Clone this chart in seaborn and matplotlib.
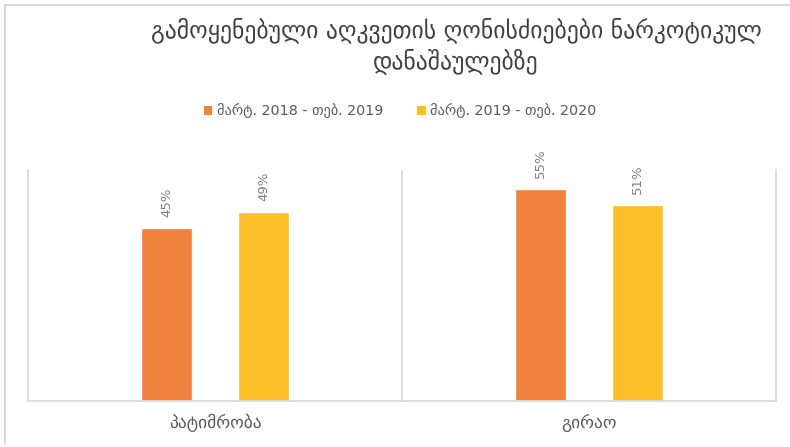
import matplotlib
matplotlib.use("Agg")
import matplotlib.pyplot as plt
import seaborn as sns
import pandas as pd
from matplotlib.lines import Line2D
from matplotlib.patches import Patch

categories = ["პატიმრობა", "გირაო"]
series_names = ["მარტ. 2018 - თებ. 2019", "მარტ. 2019 - თებ. 2020"]
values_2018 = [45, 55]
values_2019 = [49, 51]
title_text = "გამოყენებული აღკვეთის ღონისძიებები ნარკოტიკულ\nდანაშაულებზე"
colors = ["#F0823D", "#FDBE28"]

df = pd.DataFrame({
    "category": categories * 2,
    "period": [series_names[0]] * 2 + [series_names[1]] * 2,
    "value": values_2018 + values_2019,
})

sns.set_theme(style="white")
plt.rcParams["font.family"] = ["DejaVu Sans"]

fig = plt.figure(figsize=(7.9, 4.47), dpi=100)
ax = fig.add_axes([28 / 790, 46 / 447, 748 / 790, 231 / 447])

sns.barplot(data=df, x="category", y="value", hue="period", order=categories,
            hue_order=series_names, palette=colors, width=0.52, gap=0.47,
            saturation=1, ax=ax, legend=False)

for cont in ax.containers:
    ax.bar_label(cont, labels=[f"{int(v)}%" for v in cont.datavalues],
                 rotation=90, padding=8, color="#808080", fontsize=9.5)

ax.set_ylim(0, 60)
ax.set_xlim(-0.5, 1.5)
ax.set_yticks([])
ax.set_xlabel("")
ax.set_ylabel("")
ax.axvline(0.5, color="#d9d9d9", lw=1.3)
for side in ["left", "right", "bottom"]:
    ax.spines[side].set_color("#d9d9d9")
    ax.spines[side].set_linewidth(1.3)
ax.spines["top"].set_visible(False)
ax.tick_params(axis="x", length=0, pad=9, labelsize=12.5, labelcolor="#595959")

handles = [Patch(facecolor=c, edgecolor="none") for c in colors]
fig.legend(handles, series_names, loc="center", bbox_to_anchor=(400 / 790, 1 - 111 / 447),
           ncol=2, frameon=False, fontsize=10.3, handlelength=0.6, handleheight=0.6,
           handletextpad=0.3, columnspacing=2.4, labelcolor="#595959")

fig.text(456 / 790, 1 - 46 / 447, title_text, ha="center", va="center",
         fontsize=17, color="#404040", linespacing=1.25)

fig.add_artist(Line2D([5 / 790, 5 / 790], [1 - 5 / 447, 1 - 443 / 447],
                      transform=fig.transFigure, color="#d9d9d9", lw=1.5))
fig.add_artist(Line2D([5 / 790, 1], [1 - 5 / 447, 1 - 5 / 447],
                      transform=fig.transFigure, color="#d9d9d9", lw=1.5))

fig.savefig("out.png", dpi=100)
